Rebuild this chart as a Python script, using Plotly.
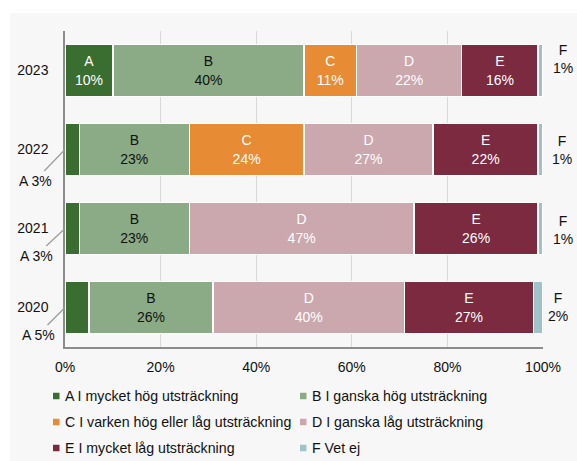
import plotly.graph_objects as go

# ---------------- data ----------------
years = ["2020", "2021", "2022", "2023"]
letters = ["A", "B", "C", "D", "E", "F"]
series_names = [
    "A I mycket hög utsträckning",
    "B I ganska hög utsträckning",
    "C I varken hög eller låg utsträckning",
    "D I ganska låg utsträckning",
    "E I mycket låg utsträckning",
    "F Vet ej",
]
a_vals = [5, 3, 3, 10]
b_vals = [26, 23, 23, 40]
c_vals = [0, 0, 24, 11]
d_vals = [40, 47, 27, 22]
e_vals = [27, 26, 22, 16]
f_vals = [2, 1, 1, 1]
x_ticks = [0, 20, 40, 60, 80, 100]
x_tick_labels = ["0%", "20%", "40%", "60%", "80%", "100%"]

# ---------------- style ----------------
colors = ["#3a6d30", "#8aab85", "#e88b35", "#cba7ae", "#7b2a40", "#9ec4ca"]
text_colors = ["white", "#111111", "white", "white", "white", "#111111"]
FONT = "Liberation Sans, Arial, sans-serif"
FS = 14
LEG_FS = 14.2
W, H = 577, 461
L, R, T, B = 65, 34, 31, 114
pw, ph = W - L - R, H - T - B


def px_x(x):
    return (x - L) / pw


def px_y(y):
    return 1 - (y - T) / ph


all_vals = [a_vals, b_vals, c_vals, d_vals, e_vals, f_vals]
INSIDE_MIN = 8

fig = go.Figure()
for i, vals in enumerate(all_vals):
    texts = []
    for v in vals:
        if v >= INSIDE_MIN:
            texts.append(f"{letters[i]}<br>{v}%")
        else:
            texts.append("")
    fig.add_trace(go.Bar(
        x=vals, y=years, orientation="h", name=series_names[i],
        marker=dict(color=colors[i], line=dict(color="white", width=1.5)),
        text=texts, textposition="inside", insidetextanchor="middle",
        textangle=0, constraintext="none",
        insidetextfont=dict(color=text_colors[i], size=FS, family=FONT),
        showlegend=False, hoverinfo="skip",
    ))

annotations = []
shapes = []

# background panel
shapes.append(dict(type="rect", xref="paper", yref="paper", layer="below",
                   x0=px_x(10), x1=px_x(577), y0=px_y(461), y1=px_y(13),
                   fillcolor="#f7f7f7", line=dict(width=0)))

# outside A labels with leader lines
a_offsets = {"2022": (-30, 31), "2021": (-29, 27), "2020": (-27, 27)}
for idx, (yr, v) in enumerate(zip(years, a_vals)):
    if v < INSIDE_MIN:
        ax, ay = a_offsets.get(yr, (-28, 28))
        annotations.append(dict(
            x=0, y=idx, xref="x", yref="y", text=f"A {v}%",
            showarrow=True, arrowhead=0, arrowwidth=1.2, arrowcolor="#9a9a9a",
            standoff=0, startstandoff=0,
            ax=ax, ay=ay, font=dict(size=FS, family=FONT, color="#111111"),
        ))

# outside F labels
f_shift = {"2023": (20, 12), "2022": (19, 0), "2021": (20, -1), "2020": (15, 1)}
for idx, (yr, v) in enumerate(zip(years, f_vals)):
    xs, ys = f_shift[yr]
    annotations.append(dict(
        x=100, y=idx, xref="x", yref="y", text=f"F<br>{v}%",
        showarrow=False, xanchor="center", yanchor="middle",
        xshift=xs, yshift=ys,
        font=dict(size=FS, family=FONT, color="#111111"),
    ))

# manual legend (2 columns x 3 rows)
col_x = [53, 300]
row_y = [396, 422, 448]
msize = 6.5
for i, name in enumerate(series_names):
    cx = col_x[i % 2]
    cy = row_y[i // 2]
    shapes.append(dict(type="rect", xref="paper", yref="paper",
                       x0=px_x(cx), x1=px_x(cx + msize),
                       y0=px_y(cy + msize / 2), y1=px_y(cy - msize / 2),
                       fillcolor=colors[i], line=dict(width=0)))
    annotations.append(dict(
        x=px_x(cx + 11), y=px_y(cy), xref="paper", yref="paper",
        text=name, showarrow=False, xanchor="left", yanchor="middle",
        xshift=-1,
        font=dict(size=LEG_FS, family=FONT, color="#111111"),
    ))

fig.update_layout(
    width=W, height=H,
    margin=dict(l=L, r=R, t=T, b=B, pad=0),
    barmode="stack", bargap=0.34,
    paper_bgcolor="white", plot_bgcolor="rgba(0,0,0,0)",
    font=dict(family=FONT, size=FS, color="#111111"),
    shapes=shapes, annotations=annotations,
    showlegend=False,
    xaxis=dict(range=[0, 100], tickvals=x_ticks, ticktext=x_tick_labels,
               showgrid=True, gridcolor="#d9d9d9", gridwidth=1,
               showline=True, linecolor="#8c8c8c", linewidth=1.5,
               zeroline=False, ticks="", ticklabelstandoff=6,
               tickfont=dict(size=FS, family=FONT, color="#111111")),
    yaxis=dict(type="category", categoryorder="array", categoryarray=years,
               range=[-0.5, 3.5], showgrid=False,
               showline=True, linecolor="#8c8c8c", linewidth=1.5,
               ticks="", ticklabelstandoff=12,
               tickfont=dict(size=FS, family=FONT, color="#111111")),
)

fig.write_html("out.html", config={"displayModeBar": False},
               post_script="document.body.style.margin='0';")
